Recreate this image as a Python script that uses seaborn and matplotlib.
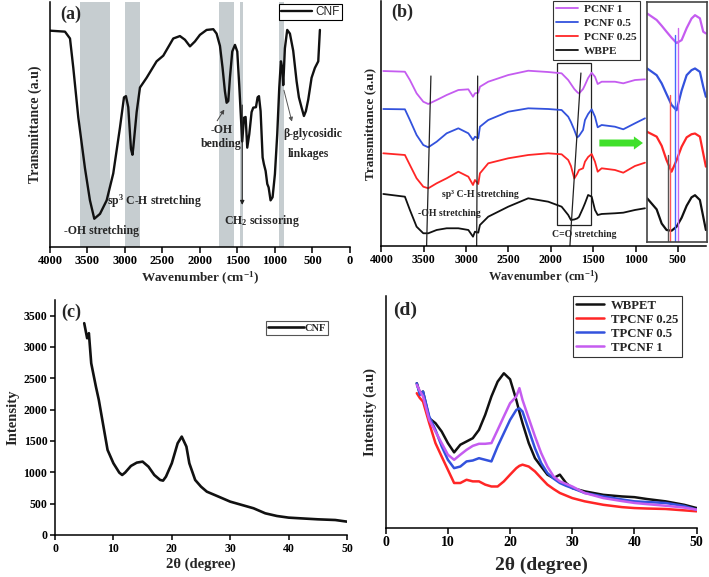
import numpy as np
import matplotlib.pyplot as plt
import seaborn as sns

sns.set_style('ticks')
plt.rcParams['font.family'] = ['Liberation Serif', 'DejaVu Serif']
plt.rcParams['font.weight'] = 'bold'
plt.rcParams['axes.labelweight'] = 'bold'
plt.rcParams['mathtext.fontset'] = 'custom'
plt.rcParams['mathtext.rm'] = 'Liberation Serif:bold'
plt.rcParams['mathtext.default'] = 'rm'
plt.rcParams['axes.linewidth'] = 1.1
plt.rcParams['axes.edgecolor'] = 'black'
plt.rcParams['xtick.color'] = 'black'
plt.rcParams['ytick.color'] = 'black'

# (a) FTIR of CNF
ftir_wn = [4000, 3800, 3733, 3689, 3622, 3533, 3467, 3409, 3333, 3244, 3156, 3067, 3013, 2987,
           2956, 2920, 2900, 2889, 2844, 2800, 2711, 2578, 2489, 2356, 2267, 2200, 2133, 2067,
           2000, 1911, 1822, 1778, 1733, 1698, 1667, 1644, 1622, 1600, 1569, 1533, 1502, 1476,
           1453, 1436, 1413, 1391, 1369, 1342, 1311, 1289, 1253, 1231, 1213, 1191, 1164, 1147,
           1124, 1102, 1084, 1058, 1031, 1000, 969, 942, 920, 902, 889, 867, 836, 800, 756,
           711, 680, 644, 613, 587, 556, 511, 467, 422, 400]
ftir_cnf = [88.2, 87.8, 85, 73, 52.7, 32, 19, 11.5, 13.5, 19, 30, 48.6, 61, 61.5,
            57, 40, 37.6, 40.5, 55, 65, 69, 75.7, 78, 85, 86, 84.5, 81.8, 83.8,
            86.5, 88.5, 88.8, 87, 82, 73, 63.5, 58.8, 59.5, 69, 79.7, 82.4, 79.7, 66,
            52.7, 43, 52.7, 53, 40.5, 46, 55, 56.8, 57, 61, 61.5, 55.4, 36.5, 33.8,
            31, 25.7, 24.3, 19, 20.3, 29.7, 46, 65, 75.7, 73, 66, 81, 88.5, 87, 80,
            67.6, 61, 56.8, 53.4, 55.4, 60, 69, 73, 75.7, 88.5]
bands = [(3600, 3200), (3000, 2800), (1750, 1550), (1470, 1420), (950, 880)]

# (b) FTIR of WBPE and composites
ftir_b_wn = [3978, 3723, 3664, 3585, 3506, 3447, 3348, 3230, 3092, 2974, 2919, 2896, 2857, 2837,
             2739, 2503, 2267, 2031, 1873, 1795, 1763, 1723, 1690, 1668, 1620, 1597, 1560, 1518,
             1479, 1447, 1400, 1243, 1145, 1007, 889]
pcnf1 = [175, 174.3, 166, 152.7, 144.3, 142, 146, 151, 156, 156.7, 149.3, 152.7, 153.3, 159.3,
         164.3, 171, 175.3, 174, 172.7, 166, 162, 157, 154, 152.5, 157, 161, 168, 173.3,
         169.3, 162, 164.3, 164.3, 162.7, 166, 166.7]
pcnf05 = [137, 136.7, 126, 111, 101, 98.7, 104.3, 112.7, 117.7, 112.7, 106, 109.3, 107.7, 119.3,
          126, 134.3, 137.7, 137, 136, 129.3, 124, 116, 108.5, 110, 116, 126, 132, 136.7,
          129.3, 118.7, 121, 119.3, 116.7, 122.7, 127.7]
pcnf025 = [92.7, 91, 81, 67.7, 59.3, 57.7, 62.7, 67.7, 74.3, 69.3, 61, 66, 62, 72.7,
           82.7, 87.7, 91, 92.7, 91.7, 86, 80, 67.5, 72, 76, 77.7, 84.3, 89, 92,
           84.3, 74.3, 77.7, 76, 73.3, 80, 83.3]
wbpe = [52, 49.3, 36, 19.3, 12.7, 12.7, 16, 17.7, 17.7, 16, 9.3, 14.3, 13.3, 21,
        29.3, 39.3, 47.7, 44.3, 39.3, 31, 26, 26.5, 27.5, 29, 38, 42.7, 51, 49.3,
        36, 31, 32, 32.7, 33.3, 36, 37.7]

# (b) inset, C=O region
inset_wn = [1926, 1858, 1822, 1787, 1751, 1715, 1679, 1643, 1608, 1583, 1548, 1524, 1505]
inset_pcnf1 = [95.1, 92.4, 90, 87.5, 85, 82.8, 84, 89, 93, 94.4, 93.1, 87.5, 86.8]
inset_pcnf05 = [72.2, 69.4, 66, 61.5, 57, 54.8, 63, 69.4, 71.5, 72.2, 70.8, 64.6, 60.4]
inset_pcnf025 = [45.8, 43.8, 40, 34, 29.2, 34, 39.6, 43.5, 44.8, 45.1, 43.8, 36.8, 31.3]
inset_wbpe = [18.1, 13.5, 7.6, 4.9, 4.6, 6.3, 10, 15, 18.5, 19.4, 17.4, 10.4, 4.9]
peak_wn = [1775, 1761, 1727, 1703]
peak_top = [36, 61, 86, 89]

# (c) XRD of CNF
xrd_c_2t = [5, 5.5, 5.8, 6.2, 7, 7.5, 8, 8.5, 9, 10, 11, 11.5, 12, 13, 14, 15, 16, 17, 18, 18.5,
            19, 20, 21, 21.7, 22.5, 23, 24, 25, 26, 28, 30, 32, 34, 36, 38, 40, 42, 45, 48, 50]
xrd_c_int = [3378, 3138, 3218, 2739, 2367, 2154, 1888, 1622, 1356, 1144, 995, 957, 995, 1101,
             1154, 1170, 1090, 957, 878, 867, 931, 1144, 1463, 1569, 1410, 1144, 878, 771, 691,
             612, 532, 479, 426, 346, 303, 277, 266, 250, 239, 213]

# (d) XRD of WBPET and composites
xrd_d_2t = [5, 5.5, 6, 7, 8, 9, 10, 11, 12, 13, 14, 15, 16, 17, 18, 19, 20, 21, 21.5, 22,
            23, 24, 25, 26, 27, 28, 29, 30, 32, 35, 38, 40, 42, 45, 48, 50]
wbpet = [62.4, 58.1, 58.8, 47.3, 45.2, 41.6, 36.6, 32.6, 35.9, 37.3, 38.7, 42.3, 48.8, 56.7,
         63.1, 66.7, 64.1, 55.2, 50, 45.2, 36.6, 30.1, 26.5, 23, 21.5, 23, 19.4, 17.2, 15.8,
         14.3, 13.6, 13.3, 12.5, 11.5, 10, 8.6]
tpcnf025 = [58.1, 56, 54.5, 45.2, 36.6, 30.8, 25.1, 19.4, 19.4, 20.8, 20.1, 20.1, 18.7, 17.9,
            17.9, 20.1, 23, 25.8, 26.8, 27.3, 26.5, 24.4, 21.5, 18.7, 16.8, 15.1, 14, 12.9, 11.5,
            10, 9, 8.6, 8.4, 8.2, 7.6, 7.2]
tpcnf05 = [62.4, 57.4, 58.8, 48.1, 42.3, 35.2, 29.4, 25.8, 26.5, 28.7, 29.1, 30.1, 29.4, 28.7,
           35.2, 40.9, 46.6, 50.9, 51.6, 50.2, 42.3, 34.4, 28, 23.7, 21.3, 19.4, 18.2, 17.2, 15.1,
           13.6, 12.3, 11.5, 11.2, 10.8, 9.5, 7.9]
tpcnf1 = [61.7, 59, 56.7, 46.6, 41.6, 36.6, 31.6, 29.4, 31.6, 33.7, 35.4, 36.3, 36.3, 36.6,
          42.3, 48.1, 53.8, 56.7, 60.3, 55.2, 47.3, 39.5, 32.3, 26.5, 22.2, 20.1, 19, 17.9, 15.1,
          12.9, 11.6, 10.8, 10.3, 9.6, 8.8, 7.9]

violet = '#c55cf0'
blue = '#3352dd'
red = '#ff2626'
black = '#111111'

fig = plt.figure(figsize=(7.09, 5.77), dpi=100)
ax_a = fig.add_axes([0.0705, 0.572, 0.423, 0.425])
ax_b = fig.add_axes([0.538, 0.5737, 0.4584, 0.4245])
ax_c = fig.add_axes([0.0776, 0.0728, 0.4118, 0.4073])
ax_d = fig.add_axes([0.544, 0.0849, 0.4386, 0.4021])

# ---- (a)
for lo, hi in bands:
    ax_a.axvspan(hi, lo, color='#c6cdd0', lw=0, zorder=0)
sns.lineplot(x=ftir_wn, y=ftir_cnf, ax=ax_a, color=black, lw=1.7, label='CNF')
ax_a.set_xlim(4000, 0)
ax_a.set_ylim(0, 100)
ax_a.set_xticks(range(4000, -1, -500))
ax_a.set_yticks([])
ax_a.tick_params(axis='x', direction='out', length=4, width=1.1, labelsize=9, pad=2)
ax_a.set_xlabel('Wavenumber (cm$^{-1}$)', fontsize=9.5, labelpad=2)
ax_a.set_ylabel('Transmittance (a.u)', fontsize=10, labelpad=6)
ax_a.text(3311, 6.5, '-OH stretching', fontsize=8.5, fontweight='bold', ha='center', va='center')
ax_a.text(2609, 18.5, 'sp$^3$ C-H stretching', fontsize=8.5, fontweight='bold', ha='center', va='center')
ax_a.text(1711, 45, '-OH\nbending', fontsize=8.5, fontweight='bold', ha='center', va='center',
          linespacing=1.2)
ax_a.text(1178, 10.5, 'CH$_2$ scissoring', fontsize=8.5, fontweight='bold', ha='center', va='center')
ax_a.text(489, 46.2, 'β-glycosidic', fontsize=8.5, fontweight='bold', ha='center', va='center')
ax_a.text(560, 37.8, 'linkages', fontsize=8.5, fontweight='bold', ha='center', va='center')
ax_a.annotate('', xy=(1655, 57), xytext=(1790, 50.5),
              arrowprops=dict(arrowstyle='-|>', color='#444444', lw=0.7, mutation_scale=6))
ax_a.annotate('', xy=(1436, 16), xytext=(1436, 59),
              arrowprops=dict(arrowstyle='-|>', color='#222222', lw=0.8, mutation_scale=6))
ax_a.annotate('', xy=(764, 50), xytext=(889, 65),
              arrowprops=dict(arrowstyle='-|>', color='#555555', lw=0.7, mutation_scale=6))
ax_a.legend(loc='upper right', bbox_to_anchor=(0.98, 1.0), frameon=True, fancybox=False,
            edgecolor='black', framealpha=1, handlelength=2.6, borderpad=0.15,
            handletextpad=0.3, borderaxespad=0.2, prop={'family': 'Liberation Sans',
                                                         'weight': 'normal', 'size': 8.5})
ax_a.get_legend().get_frame().set_linewidth(0.8)
ax_a.text(0.035, 0.985, '(a)', transform=ax_a.transAxes, fontsize=13, ha='left', va='top')
sns.despine(ax=ax_a)

# ---- (b)
sns.lineplot(x=ftir_b_wn, y=pcnf1, ax=ax_b, color=violet, lw=1.3, label='PCNF 1')
sns.lineplot(x=ftir_b_wn, y=pcnf05, ax=ax_b, color=blue, lw=1.3, label='PCNF 0.5')
sns.lineplot(x=ftir_b_wn, y=pcnf025, ax=ax_b, color=red, lw=1.3, label='PCNF 0.25')
sns.lineplot(x=ftir_b_wn, y=wbpe, ax=ax_b, color=black, lw=1.3, label='WBPE')
ax_b.plot([3416, 3467], [170, 0], color='#222222', lw=0.9)
ax_b.plot([2864, 2876], [170, 0], color='#222222', lw=0.9)
ax_b.plot([1645, 1775], [173, 0], color='#222222', lw=0.9)
ax_b.add_patch(plt.Rectangle((1932, 21), 1527 - 1932, 162, fill=False, ec='#222222', lw=0.9))
ax_b.annotate('', xy=(880, 103), xytext=(1460, 103),
              arrowprops=dict(arrowstyle='simple,head_width=0.95,head_length=0.65,tail_width=0.5',
                              color='#3fe02a', lw=0, mutation_scale=10))
ax_b.text(2837, 51.7, 'sp³ C-H stretching', fontsize=7, fontweight='bold', ha='center', va='center')
ax_b.text(3195, 32.7, '-OH stretching', fontsize=7, fontweight='bold', ha='center', va='center')
ax_b.text(1610, 11.7, 'C=O stretching', fontsize=7, fontweight='bold', ha='center', va='center')
ax_b.set_xlim(4000, 163)
ax_b.set_ylim(0, 245)
ax_b.set_xticks(range(4000, 499, -500))
ax_b.set_yticks([])
ax_b.tick_params(axis='x', direction='out', length=4, width=1.1, labelsize=8.5, pad=2)
ax_b.set_xlabel('Wavenumber (cm$^{-1}$)', fontsize=9, labelpad=2)
ax_b.set_ylabel('Transmittance (a.u)', fontsize=9.5, labelpad=4)
leg_b = ax_b.legend(loc='upper right', bbox_to_anchor=(0.795, 1.0), frameon=True, fancybox=False,
                    edgecolor='#333333', framealpha=1, handlelength=1.9, borderpad=0.3,
                    handletextpad=0.5, labelspacing=0.35, borderaxespad=0.0, fontsize=8.2)
leg_b.get_frame().set_linewidth(0.8)
ax_b.text(0.03, 0.99, '(b)', transform=ax_b.transAxes, fontsize=13, ha='left', va='top')
sns.despine(ax=ax_b)

# (b) inset
ax_in = fig.add_axes([0.912, 0.581, 0.0846, 0.416])
sns.lineplot(x=inset_wn, y=inset_pcnf1, ax=ax_in, color=violet, lw=1.6)
sns.lineplot(x=inset_wn, y=inset_pcnf05, ax=ax_in, color=blue, lw=1.6)
sns.lineplot(x=inset_wn, y=inset_pcnf025, ax=ax_in, color=red, lw=1.6)
sns.lineplot(x=inset_wn, y=inset_wbpe, ax=ax_in, color=black, lw=1.6)
for wn, top, c in zip(peak_wn, peak_top, ['#555555', '#ff5555', '#4466ff', '#cc66ee']):
    ax_in.plot([wn, wn], [0, top], color=c, lw=1.0)
ax_in.set_xlim(1930, 1500)
ax_in.set_ylim(0, 100)
ax_in.set_xticks([])
ax_in.set_yticks([])
ax_in.set_xlabel('')
ax_in.set_ylabel('')
for s in ax_in.spines.values():
    s.set_color('#444444')
    s.set_linewidth(1.2)

# ---- (c)
sns.lineplot(x=xrd_c_2t, y=xrd_c_int, ax=ax_c, color=black, lw=1.9, label='CNF')
ax_c.set_xlim(0, 50)
ax_c.set_ylim(0, 3748)
ax_c.set_xticks(range(0, 51, 10))
ax_c.set_yticks(range(0, 3501, 500))
ax_c.tick_params(direction='out', length=3.5, width=1.1, labelsize=8.5, pad=2)
ax_c.set_xlabel('2θ (degree)', fontsize=10.5, labelpad=2)
ax_c.set_ylabel('Intensity', fontsize=10.5, labelpad=3)
leg_c = ax_c.legend(loc='upper right', bbox_to_anchor=(0.935, 0.91), frameon=True, fancybox=False,
                    edgecolor='#555555', framealpha=1, handlelength=3.4, borderpad=0.2,
                    handletextpad=0.1, borderaxespad=0.0, fontsize=7.5)
leg_c.get_frame().set_linewidth(0.8)
ax_c.text(0.02, 0.985, '(c)', transform=ax_c.transAxes, fontsize=13, ha='left', va='top')
sns.despine(ax=ax_c)

# ---- (d)
sns.lineplot(x=xrd_d_2t, y=wbpet, ax=ax_d, color=black, lw=1.8, label='WBPET')
sns.lineplot(x=xrd_d_2t, y=tpcnf025, ax=ax_d, color=red, lw=1.8, label='TPCNF 0.25')
sns.lineplot(x=xrd_d_2t, y=tpcnf05, ax=ax_d, color=blue, lw=1.8, label='TPCNF 0.5')
sns.lineplot(x=xrd_d_2t, y=tpcnf1, ax=ax_d, color=violet, lw=1.8, label='TPCNF 1')
ax_d.set_xlim(0, 50)
ax_d.set_ylim(0, 100)
ax_d.set_xticks(range(0, 51, 10))
ax_d.set_yticks([])
ax_d.tick_params(axis='x', direction='out', length=4, width=1.1, labelsize=10, pad=2)
ax_d.set_xlabel('2θ (degree)', fontsize=14, labelpad=5)
ax_d.set_ylabel('Intensity (a.u)', fontsize=10.5, labelpad=6)
leg_d = ax_d.legend(loc='upper right', bbox_to_anchor=(0.953, 1.0), frameon=True, fancybox=False,
                    edgecolor='#333333', framealpha=1, handlelength=2.2, borderpad=0.3,
                    handletextpad=0.5, labelspacing=0.15, borderaxespad=0.0, fontsize=9.2)
leg_d.get_frame().set_linewidth(0.8)
ax_d.text(0.025, 0.975, '(d)', transform=ax_d.transAxes, fontsize=14, ha='left', va='top')
sns.despine(ax=ax_d)

fig.savefig('out.png', dpi=100)
